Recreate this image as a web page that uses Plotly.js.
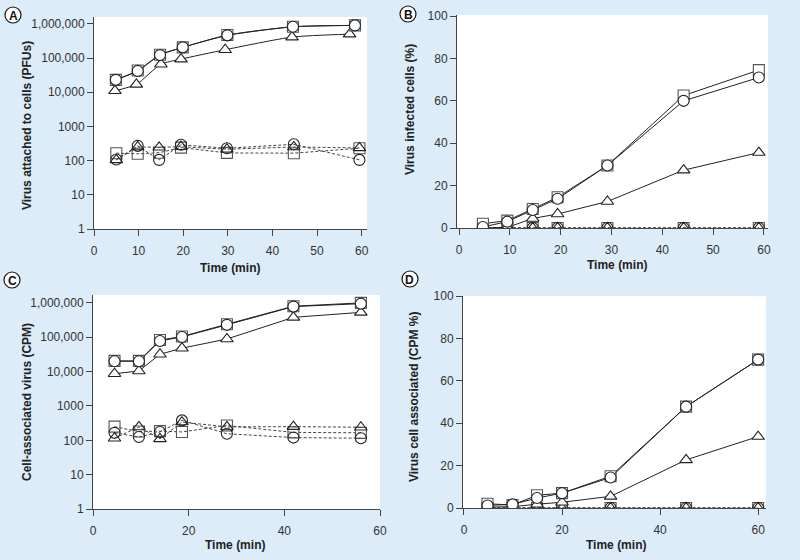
<!DOCTYPE html>
<html><head><meta charset="utf-8">
<script src="https://cdn.plot.ly/plotly-3.0.1.min.js"></script>
<style>html,body{margin:0;padding:0;background:#dcecf8;}#chart{width:800px;height:560px;}</style>
</head><body><div id="chart"></div>
<script>
// ---- Data ----
// Panel A: virus attached to cells (PFUs)
const A_t_sq = [4.9, 9.8, 14.8, 19.9, 29.9, 44.6, 58.5];
const A_sq = [23000, 43000, 125000, 205000, 470000, 820000, 900000];
const A_ci = [23000, 42000, 122000, 205000, 460000, 820000, 900000];
const A_t_tri = [4.7, 9.5, 15, 19.5, 29.4, 44.4, 57.3];
const A_tri = [11000, 17000, 66000, 93000, 175000, 410000, 500000];
const A_t_dash = [5, 9.8, 14.6, 19.5, 29.8, 44.8, 59.5];
const A_sq_d = [165, 158, 170, 240, 168, 165, 230];
const A_ci_d = [108, 270, 105, 290, 230, 300, 105];
const A_tri_d = [105, 250, 245, 255, 215, 250, 235];

// Panel B: virus infected cells (%)
const B_t = [4.7, 9.5, 14.5, 19.4, 29.2, 44.2, 59];
const B_sq = [2, 3.5, 9, 14.5, 29.5, 62.5, 74.5];
const B_ci = [0.5, 3, 8.5, 13.8, 29.5, 60, 71];
const B_tri = [0, 0.3, 4.5, 6.6, 12.5, 27.3, 35.6];
const B_sq_d = [0, 0, 0, 0, 0, 0, 0];
const B_ci_d = [0, 0, 0, 0, 0, 0, 0];
const B_tri_d = [0, 0, 0, 0, 0, 0, 0];

// Panel C: cell-associated virus (CPM)
const C_t = [4.5, 9.6, 14, 18.6, 28, 41.9, 56];
const C_sq = [20500, 20500, 83000, 105000, 240000, 800000, 1000000];
const C_ci = [20000, 20000, 78000, 102000, 230000, 780000, 950000];
const C_tri = [8700, 10400, 32000, 48000, 89000, 380000, 530000];
const C_sq_d = [250, 180, 185, 175, 270, 170, 165];
const C_ci_d = [165, 125, 175, 380, 155, 120, 115];
const C_tri_d = [115, 245, 110, 340, 245, 250, 240];

// Panel D: virus cell associated (CPM %)
const D_t = [4.8, 9.9, 14.9, 20, 29.9, 45.3, 60];
const D_sq = [2, 1.4, 6, 7, 15, 47.8, 70];
const D_ci = [1.2, 1.7, 4.7, 7, 14.4, 47.8, 70];
const D_tri = [0.4, 0.6, 1.8, 2.7, 5.5, 22.7, 33.7];
const D_sq_d = [0, 0, 0, 0, 0, 0, 0];
const D_ci_d = [0, 0, 0, 0, 0, 0, 0];
const D_tri_d = [0, 0, 0, 0, 0, 0, 0];

// Tick labels
const logTickVals = [1, 10, 100, 1000, 10000, 100000, 1000000];
const logTickText = ['1', '10', '100', '1000', '10,000', '100,000', '1,000,000'];
const pctTickVals = [0, 20, 40, 60, 80, 100];
const xTicksA = [0, 10, 20, 30, 40, 50, 60];
const xTicksC = [0, 20, 40, 60];

const panelLabels = ['A', 'B', 'C', 'D'];
const yTitles = ['Virus attached to cells (PFUs)', 'Virus infected cells (%)', 'Cell-associated virus (CPM)', 'Virus cell associated (CPM %)'];
const xTitle = 'Time (min)';

// ---- Styling helpers ----
const W = 800, H = 560;
const px = x => x / W;
const py = y => 1 - y / H;

function solid(x, y, sym, xa, ya, shape, col) {
  return {x: x, y: y, xaxis: xa, yaxis: ya, type: 'scatter', mode: 'lines+markers', showlegend: false,
    line: {color: '#222', width: 1, shape: shape || 'linear', smoothing: 0.6},
    marker: {symbol: sym, size: 11, color: 'white', line: {color: col || '#222', width: 1.1}}};
}
function dashed(x, y, sym, xa, ya, col) {
  return {x: x, y: y, xaxis: xa, yaxis: ya, type: 'scatter', mode: 'lines+markers', showlegend: false,
    line: {color: '#444', width: 1, dash: '3px,2px'},
    marker: {symbol: sym + '-open', size: 11, color: col || '#222', line: {width: 1.1}}};
}

const SQ = 'square', CI = 'circle', TR = 'triangle-up', SQC = '#555';
const data = [
  dashed(A_t_dash, A_sq_d, SQ, 'x', 'y', SQC), dashed(A_t_dash, A_ci_d, CI, 'x', 'y'), dashed(A_t_dash, A_tri_d, TR, 'x', 'y'),
  solid(A_t_tri, A_tri, TR, 'x', 'y', 'spline'), solid(A_t_sq, A_sq, SQ, 'x', 'y', 'spline', SQC), solid(A_t_sq, A_ci, CI, 'x', 'y', 'spline'),

  dashed(B_t, B_sq_d, SQ, 'x2', 'y2', SQC), dashed(B_t, B_ci_d, CI, 'x2', 'y2'), dashed(B_t, B_tri_d, TR, 'x2', 'y2'),
  solid(B_t, B_tri, TR, 'x2', 'y2'), solid(B_t, B_sq, SQ, 'x2', 'y2', 'linear', SQC), solid(B_t, B_ci, CI, 'x2', 'y2'),

  dashed(C_t, C_sq_d, SQ, 'x3', 'y3', SQC), dashed(C_t, C_ci_d, CI, 'x3', 'y3'), dashed(C_t, C_tri_d, TR, 'x3', 'y3'),
  solid(C_t, C_tri, TR, 'x3', 'y3'), solid(C_t, C_sq, SQ, 'x3', 'y3', 'linear', SQC), solid(C_t, C_ci, CI, 'x3', 'y3'),

  dashed(D_t, D_sq_d, SQ, 'x4', 'y4', SQC), dashed(D_t, D_ci_d, CI, 'x4', 'y4'), dashed(D_t, D_tri_d, TR, 'x4', 'y4'),
  solid(D_t, D_tri, TR, 'x4', 'y4'), solid(D_t, D_sq, SQ, 'x4', 'y4', 'linear', SQC), solid(D_t, D_ci, CI, 'x4', 'y4')
];

const tickFont = {family: 'Liberation Sans, Arial, sans-serif', size: 12, color: '#333'};
function xax(dom, range, vals, anchor) {
  return {domain: dom, range: range, anchor: anchor, tickvals: vals, showline: true, linecolor: '#444', linewidth: 1,
    ticks: 'outside', ticklen: 6, tickcolor: '#444', tickfont: tickFont, ticklabelstandoff: 5,
    showgrid: false, zeroline: false, fixedrange: true};
}
function yax(dom, range, anchor, log) {
  const o = {domain: dom, range: range, anchor: anchor, showline: true, linecolor: '#444', linewidth: 1,
    ticks: 'outside', ticklen: 6, tickcolor: '#444', tickfont: tickFont, showgrid: false, zeroline: false, fixedrange: true};
  if (log) { o.type = 'log'; o.tickvals = logTickVals; o.ticktext = logTickText; }
  else { o.tickvals = pctTickVals; }
  return o;
}

const titleFont = {family: 'Liberation Sans, Arial, sans-serif', size: 12, color: '#222'};
const yTitlePos = [[27, 126], [410, 109], [27, 402], [414, 396]];
const xTitlePos = [[230, 268], [617, 265], [235, 545], [616, 545]];
const labelPos = [[13, 15], [408, 14], [12, 280], [410, 279]];

const annotations = [];
const shapes = [];
for (let i = 0; i < 4; i++) {
  annotations.push({xref: 'paper', yref: 'paper', x: px(yTitlePos[i][0]), y: py(yTitlePos[i][1]), text: '<b>' + yTitles[i] + '</b>',
    textangle: -90, showarrow: false, font: titleFont, xanchor: 'center', yanchor: 'middle'});
  annotations.push({xref: 'paper', yref: 'paper', x: px(xTitlePos[i][0]), y: py(xTitlePos[i][1]), text: '<b>' + xTitle + '</b>',
    showarrow: false, font: titleFont, xanchor: 'center', yanchor: 'middle'});
  shapes.push({type: 'circle', xref: 'paper', yref: 'paper', xsizemode: 'pixel', ysizemode: 'pixel',
    xanchor: px(labelPos[i][0]), yanchor: py(labelPos[i][1]), x0: -8, x1: 8, y0: -8, y1: 8,
    line: {color: '#111', width: 1.2}, fillcolor: 'white'});
  annotations.push({xref: 'paper', yref: 'paper', x: px(labelPos[i][0]), y: py(labelPos[i][1] + 0.5), text: '<b>' + panelLabels[i] + '</b>',
    showarrow: false, font: {family: 'Liberation Sans, Arial, sans-serif', size: 12, color: '#111'}, xanchor: 'center', yanchor: 'middle'});
}

const layout = {
  width: W, height: H, margin: {l: 0, r: 0, t: 0, b: 0},
  paper_bgcolor: '#dcecf8', plot_bgcolor: 'white', showlegend: false,
  xaxis: xax([px(94), px(367)], [0, 61.2], xTicksA, 'y'),
  yaxis: yax([py(229), py(17)], [0, 6.2], 'x', true),
  xaxis2: xax([px(457), px(768)], [-0.4, 60.8], xTicksA, 'y2'),
  yaxis2: yax([py(228), py(15)], [0, 100.5], 'x2', false),
  xaxis3: xax([px(93), px(380)], [0, 60], xTicksC, 'y3'),
  yaxis3: yax([py(509), py(295)], [0, 6.23], 'x3', true),
  xaxis4: xax([px(463), px(766)], [-0.2, 61.6], xTicksC, 'y4'),
  yaxis4: yax([py(508), py(296)], [0, 100], 'x4', false),
  annotations: annotations, shapes: shapes
};

Plotly.newPlot('chart', data, layout, {displayModeBar: false, staticPlot: true});
</script></body></html>
